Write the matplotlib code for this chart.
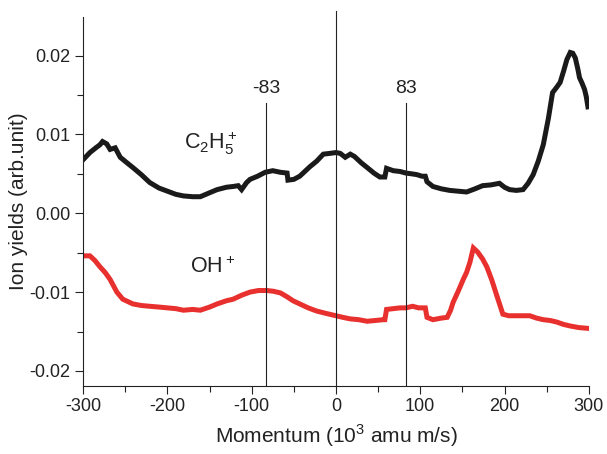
import matplotlib
matplotlib.use("Agg")
import matplotlib.pyplot as plt
from matplotlib.ticker import MultipleLocator, FormatStrFormatter

plt.rcParams['font.family'] = ['Liberation Sans', 'DejaVu Sans']
plt.rcParams['mathtext.fontset'] = 'custom'
plt.rcParams['mathtext.rm'] = 'Liberation Sans'
plt.rcParams['axes.unicode_minus'] = False

# C2H5+ curve
c2h5_x = [-300, -292, -285, -280, -277, -272, -268, -262, -256, -248, -241, -231, -221,
          -210, -200, -190, -181, -170, -161, -150, -141, -130, -122, -116, -112, -106,
          -102, -93, -84, -75, -66, -58, -57, -50, -43, -37, -31, -23, -15, -7, 0, 5,
          11, 17, 22, 30, 37, 45, 52, 58, 60, 68, 76, 83, 90, 96, 102, 106, 108, 115,
          125, 135, 145, 155, 165, 174, 184, 194, 200, 206, 214, 222, 228, 234, 240,
          246, 252, 257, 262, 266, 270, 274, 278, 281, 284, 287, 289, 292, 295, 297, 299]
c2h5_y = [0.0068, 0.0077, 0.0083, 0.0087, 0.0091, 0.0088, 0.0081, 0.0083, 0.0071, 0.0064,
          0.0058, 0.0049, 0.0039, 0.0032, 0.0028, 0.0024, 0.0022, 0.0021, 0.0021, 0.0026,
          0.0030, 0.0033, 0.0034, 0.0035, 0.0030, 0.0039, 0.0043, 0.0047, 0.0052, 0.0054,
          0.0052, 0.0051, 0.0042, 0.0043, 0.0047, 0.0053, 0.0059, 0.0066, 0.0075, 0.0076,
          0.0077, 0.0076, 0.0071, 0.0075, 0.0072, 0.0064, 0.0058, 0.0051, 0.0046, 0.0046,
          0.0057, 0.0054, 0.0053, 0.0051, 0.0050, 0.0049, 0.0047, 0.0047, 0.0040, 0.0034,
          0.0031, 0.0029, 0.0028, 0.0027, 0.0031, 0.0035, 0.0036, 0.0038, 0.0033, 0.0030,
          0.0029, 0.0030, 0.0038, 0.0049, 0.0066, 0.0087, 0.0120, 0.0153, 0.0160, 0.0166,
          0.0180, 0.0195, 0.0204, 0.0203, 0.0197, 0.0183, 0.0172, 0.0165, 0.0157, 0.0148,
          0.0135]

# OH+ curve
oh_x = [-300, -292, -286, -280, -274, -268, -260, -253, -247, -241, -231, -221, -210,
        -200, -190, -181, -170, -161, -150, -141, -130, -122, -112, -102, -92, -82, -74,
        -66, -58, -51, -43, -33, -23, -12, 0, 8, 17, 27, 37, 47, 56, 58, 60, 68, 76, 83,
        91, 98, 106, 108, 115, 125, 132, 136, 139, 145, 151, 155, 159, 163, 168, 174,
        179, 185, 191, 195, 198, 205, 214, 222, 230, 238, 246, 254, 262, 270, 278, 288, 299]
oh_y = [-0.0054, -0.0054, -0.0060, -0.0068, -0.0075, -0.0084, -0.0100, -0.0109, -0.0112,
        -0.0115, -0.0117, -0.0118, -0.0119, -0.0120, -0.0121, -0.0123, -0.0122, -0.0123,
        -0.0119, -0.0115, -0.0111, -0.0109, -0.0104, -0.0100, -0.0098, -0.0098, -0.0099,
        -0.0101, -0.0106, -0.0111, -0.0115, -0.0120, -0.0124, -0.0127, -0.0130, -0.0132,
        -0.0134, -0.0135, -0.0137, -0.0136, -0.0135, -0.0135, -0.0122, -0.0121, -0.0120,
        -0.0120, -0.0118, -0.0120, -0.0120, -0.0132, -0.0135, -0.0133, -0.0132, -0.0123,
        -0.0113, -0.0099, -0.0084, -0.0075, -0.0062, -0.0044, -0.0049, -0.0058, -0.0068,
        -0.0085, -0.0105, -0.0118, -0.0128, -0.0130, -0.0130, -0.0130, -0.0130, -0.0133,
        -0.0135, -0.0136, -0.0138, -0.0141, -0.0143, -0.0145, -0.0146]

marker_lines = [-83, 83]

fig = plt.figure(figsize=(6.07, 4.54), dpi=100)
ax = fig.add_axes([0.137, 0.150, 0.833, 0.8126])

ax.plot(c2h5_x, c2h5_y, color='#1a1a1a', lw=3.6, solid_joinstyle='miter')
ax.plot(oh_x, oh_y, color='#e8302e', lw=3.6, solid_joinstyle='miter')

ax.set_xlim(-300, 300)
ax.set_ylim(-0.0219, 0.0249)

# reference lines
ax.plot([0, 0], [-0.0219, 0.0257], color='#222222', lw=0.8, clip_on=False)
for m in marker_lines:
    ax.plot([m, m], [-0.0219, 0.0140], color='#222222', lw=0.8)
    ax.text(m, 0.0148, str(m), ha='center', va='bottom', fontsize=14, color='#222222')

ax.text(-149, 0.0089, r'$\mathregular{C_2H_5^+}$', ha='center', va='center', fontsize=15.5, color='#222222')
ax.text(-146, -0.0068, r'$\mathregular{OH^+}$', ha='center', va='center', fontsize=15.5, color='#222222')

ax.spines['top'].set_visible(False)
ax.spines['right'].set_visible(False)
for s in ('left', 'bottom'):
    ax.spines[s].set_linewidth(0.8)
    ax.spines[s].set_color('#222222')

ax.xaxis.set_major_locator(MultipleLocator(100))
ax.xaxis.set_minor_locator(MultipleLocator(50))
ax.yaxis.set_major_locator(MultipleLocator(0.01))
ax.yaxis.set_minor_locator(MultipleLocator(0.005))
ax.yaxis.set_major_formatter(FormatStrFormatter('%.2f'))
ax.tick_params(which='major', direction='out', length=6, width=0.8, labelsize=13,
               colors='#222222', pad=3)
ax.tick_params(which='minor', direction='out', length=4, width=0.8, colors='#222222')

ax.set_xlabel(r'Momentum (10$^{\mathregular{3}}$ amu m/s)', fontsize=15, color='#222222', labelpad=5)
ax.set_ylabel('Ion yields (arb.unit)', fontsize=15, color='#222222', labelpad=1)

fig.savefig('out.png', dpi=100)
